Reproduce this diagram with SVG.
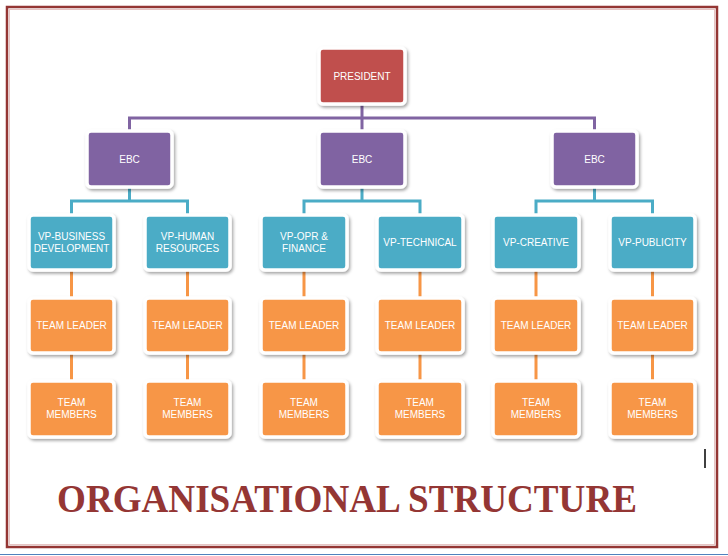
<svg xmlns="http://www.w3.org/2000/svg" width="728" height="556" viewBox="0 0 728 556">
<style>
.box{stroke:#fff;stroke-width:3.5;filter:url(#sh)}
.red{fill:#C0504D}.pur{fill:#8064A2}.teal{fill:#4BACC6}.org{fill:#F79646}
.t{font-family:"Liberation Sans",Arial,sans-serif;font-size:10px;fill:#fff;text-anchor:middle}
.c{fill:none;stroke-width:3}
</style>
<defs>
<filter id="sh" x="-20%" y="-20%" width="150%" height="150%">
<feDropShadow dx="1.5" dy="2" stdDeviation="1.5" flood-color="#000" flood-opacity="0.35"/>
</filter>
</defs>
<rect width="728" height="556" fill="#fff"/>
<line x1="0" y1="554.5" x2="728" y2="554.5" stroke="#4F81BD" stroke-width="1"/>
<rect x="7" y="7" width="710" height="540" fill="none" stroke="#943634" stroke-width="2.5"/>
<rect x="9.5" y="9.5" width="705" height="535" fill="none" stroke="#e6c4c3" stroke-width="1"/>
<g id="connectors">
<path class="c" stroke="#8064A2" d="M362 104V118M129.5 131V118H594.5V131M362 118V131"/>
<path class="c" stroke="#4BACC6" d="M129.5 187V201M71.5 215V201H187.5V215M362 187V201M304 215V201H420V215M594.5 187V201M536 215V201H652.5V215"/>
<path class="c" stroke="#F79646" d="M71.5 270V298M71.5 353V381M187.5 270V298M187.5 353V381M304 270V298M304 353V381M420 270V298M420 353V381M536 270V298M536 353V381M652.5 270V298M652.5 353V381"/>
</g>
<g id="president"><rect class="box red" x="319" y="48" width="86" height="56" rx="4"/><text class="t" x="362" y="79.5">PRESIDENT</text></g>
<g id="ebc1"><rect class="box pur" x="87" y="131" width="85" height="56" rx="4"/><text class="t" x="129.5" y="162.5">EBC</text></g>
<g id="ebc2"><rect class="box pur" x="319" y="131" width="86" height="56" rx="4"/><text class="t" x="362" y="162.5">EBC</text></g>
<g id="ebc3"><rect class="box pur" x="552" y="131" width="85" height="56" rx="4"/><text class="t" x="594.5" y="162.5">EBC</text></g>
<g id="vp1"><rect class="box teal" x="29" y="215" width="85" height="55" rx="4"/><text class="t" x="71.5" y="239.5">VP-BUSINESS</text><text class="t" x="71.5" y="252">DEVELOPMENT</text></g>
<g id="vp2"><rect class="box teal" x="145" y="215" width="85" height="55" rx="4"/><text class="t" x="187.5" y="239.5">VP-HUMAN</text><text class="t" x="187.5" y="252">RESOURCES</text></g>
<g id="vp3"><rect class="box teal" x="261" y="215" width="86" height="55" rx="4"/><text class="t" x="304" y="239.5">VP-OPR &amp;</text><text class="t" x="304" y="252">FINANCE</text></g>
<g id="vp4"><rect class="box teal" x="377" y="215" width="86" height="55" rx="4"/><text class="t" x="420" y="245.5">VP-TECHNICAL</text></g>
<g id="vp5"><rect class="box teal" x="493" y="215" width="86" height="55" rx="4"/><text class="t" x="536" y="245.5">VP-CREATIVE</text></g>
<g id="vp6"><rect class="box teal" x="610" y="215" width="85" height="55" rx="4"/><text class="t" x="652.5" y="245.5">VP-PUBLICITY</text></g>
<g id="tl1"><rect class="box org" x="29" y="298" width="85" height="55" rx="4"/><text class="t" x="71.5" y="328.5">TEAM LEADER</text></g>
<g id="tl2"><rect class="box org" x="145" y="298" width="85" height="55" rx="4"/><text class="t" x="187.5" y="328.5">TEAM LEADER</text></g>
<g id="tl3"><rect class="box org" x="261" y="298" width="86" height="55" rx="4"/><text class="t" x="304" y="328.5">TEAM LEADER</text></g>
<g id="tl4"><rect class="box org" x="377" y="298" width="86" height="55" rx="4"/><text class="t" x="420" y="328.5">TEAM LEADER</text></g>
<g id="tl5"><rect class="box org" x="493" y="298" width="86" height="55" rx="4"/><text class="t" x="536" y="328.5">TEAM LEADER</text></g>
<g id="tl6"><rect class="box org" x="610" y="298" width="85" height="55" rx="4"/><text class="t" x="652.5" y="328.5">TEAM LEADER</text></g>
<g id="tm1"><rect class="box org" x="29" y="381" width="85" height="56" rx="4"/><text class="t" x="71.5" y="405.5">TEAM</text><text class="t" x="71.5" y="418">MEMBERS</text></g>
<g id="tm2"><rect class="box org" x="145" y="381" width="85" height="56" rx="4"/><text class="t" x="187.5" y="405.5">TEAM</text><text class="t" x="187.5" y="418">MEMBERS</text></g>
<g id="tm3"><rect class="box org" x="261" y="381" width="86" height="56" rx="4"/><text class="t" x="304" y="405.5">TEAM</text><text class="t" x="304" y="418">MEMBERS</text></g>
<g id="tm4"><rect class="box org" x="377" y="381" width="86" height="56" rx="4"/><text class="t" x="420" y="405.5">TEAM</text><text class="t" x="420" y="418">MEMBERS</text></g>
<g id="tm5"><rect class="box org" x="493" y="381" width="86" height="56" rx="4"/><text class="t" x="536" y="405.5">TEAM</text><text class="t" x="536" y="418">MEMBERS</text></g>
<g id="tm6"><rect class="box org" x="610" y="381" width="85" height="56" rx="4"/><text class="t" x="652.5" y="405.5">TEAM</text><text class="t" x="652.5" y="418">MEMBERS</text></g>
<line x1="705" y1="449" x2="705" y2="468" stroke="#000" stroke-width="1.5"/>
<text x="57" y="512" textLength="580" lengthAdjust="spacingAndGlyphs" font-family="'Liberation Serif','Times New Roman',serif" font-weight="bold" font-size="40" fill="#943634">ORGANISATIONAL STRUCTURE</text>
</svg>
